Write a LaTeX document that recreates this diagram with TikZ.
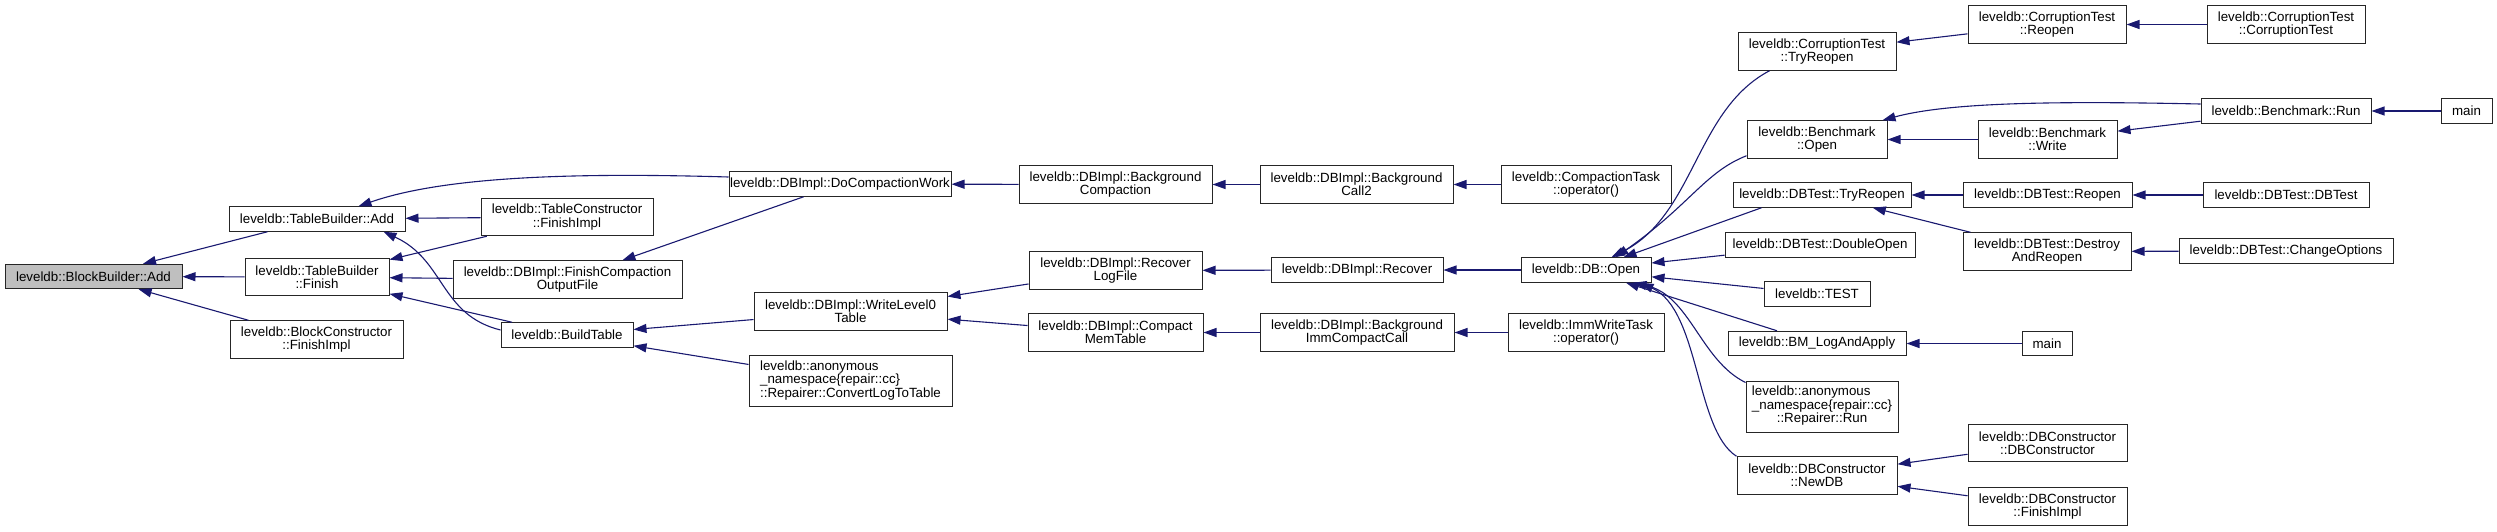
\documentclass[tikz,border=0pt]{standalone}
\usepackage{fontspec}
\setmainfont{Liberation Sans}
\usetikzlibrary{arrows.meta}
\definecolor{midnightblue}{RGB}{25,25,112}
\definecolor{grey75}{RGB}{191,191,191}
\newcommand{\anonlabel}[1]{\begin{tabular}{@{}l@{}}leveldb::anonymous\\\_namespace\{repair::cc\}\\\multicolumn{1}{@{}c@{}}{#1}\end{tabular}}

\begin{document}
\begin{tikzpicture}[x=1pt,y=-1pt,
        fn/.style={draw=black!85,line width=1pt,fill=white,inner sep=0pt,minimum height=24.5pt,align=center,font=\fontsize{13.33}{13.33}\selectfont},
        fntwo/.style={fn,minimum height=37.5pt},
        fnthree/.style={fn,minimum height=51pt},
        edge/.style={midnightblue,line width=1.1pt,-{Triangle[length=13pt,width=9pt]}}]
                \useasboundingbox (0,0) rectangle (2497,531);
                \node[fn,fill=grey75,minimum width=177] (bbAdd) at (93.5,276.5) {leveldb::BlockBuilder::Add};
                \node[fn,minimum width=176] (tbAdd) at (317,219) {leveldb::TableBuilder::Add};
                \node[fntwo,minimum width=144] (tbFinish) at (317,277) {leveldb::TableBuilder\\::Finish};
                \node[fntwo,minimum width=173] (bcFinishImpl) at (316.5,339.5) {leveldb::BlockConstructor\\::FinishImpl};
                \node[fntwo,minimum width=172] (tcFinishImpl) at (567,217) {leveldb::TableConstructor\\::FinishImpl};
                \node[fntwo,minimum width=229] (finishOut) at (567.5,279.5) {leveldb::DBImpl::FinishCompaction\\OutputFile};
                \node[fn,minimum width=132] (buildTable) at (567,335) {leveldb::BuildTable};
                \node[fn,minimum width=222] (doCompact) at (840,184) {leveldb::DBImpl::DoCompactionWork};
                \node[fntwo,minimum width=193] (writeL0) at (850.5,311.5) {leveldb::DBImpl::WriteLevel0\\Table};
                \node[fnthree,minimum width=203] (convertLog) at (850.5,381) {\anonlabel{::Repairer::ConvertLogToTable}};
                \node[fntwo,minimum width=193] (bgCompact) at (1115.5,184.5) {leveldb::DBImpl::Background\\Compaction};
                \node[fntwo,minimum width=173] (recoverLog) at (1115.5,270.5) {leveldb::DBImpl::Recover\\LogFile};
                \node[fntwo,minimum width=175] (compactMem) at (1115.5,332.5) {leveldb::DBImpl::Compact\\MemTable};
                \node[fntwo,minimum width=193] (bgCall) at (1356.5,184.5) {leveldb::DBImpl::Background\\Call2};
                \node[fn,minimum width=172] (recover) at (1357,270) {leveldb::DBImpl::Recover};
                \node[fntwo,minimum width=194] (bgImm) at (1357,332.5) {leveldb::DBImpl::Background\\ImmCompactCall};
                \node[fntwo,minimum width=170] (compTask) at (1586,184.5) {leveldb::CompactionTask\\::operator()};
                \node[fn,minimum width=130] (dbOpen) at (1586,270) {leveldb::DB::Open};
                \node[fntwo,minimum width=156] (immTask) at (1586,332.5) {leveldb::ImmWriteTask\\::operator()};
                \node[fntwo,minimum width=158] (ctTryReopen) at (1817,51.5) {leveldb::CorruptionTest\\::TryReopen};
                \node[fntwo,minimum width=140] (bmOpen) at (1817,139.5) {leveldb::Benchmark\\::Open};
                \node[fn,minimum width=178] (dtTryReopen) at (1822,195) {leveldb::DBTest::TryReopen};
                \node[fn,minimum width=190] (dtDouble) at (1820,245) {leveldb::DBTest::DoubleOpen};
                \node[fn,minimum width=106] (test) at (1817,294) {leveldb::TEST};
                \node[fn,minimum width=178] (bmLog) at (1817,343.5) {leveldb::BM\_LogAndApply};
                \node[fnthree,minimum width=152] (repRun) at (1822,406.5) {\anonlabel{::Repairer::Run}};
                \node[fntwo,minimum width=160] (newDB) at (1817,475.5) {leveldb::DBConstructor\\::NewDB};
                \node[fntwo,minimum width=158] (ctReopen) at (2047,24.5) {leveldb::CorruptionTest\\::Reopen};
                \node[fntwo,minimum width=139] (bmWrite) at (2047.5,139.5) {leveldb::Benchmark\\::Write};
                \node[fn,minimum width=169] (dtReopen) at (2047.5,195) {leveldb::DBTest::Reopen};
                \node[fntwo,minimum width=168] (dtDestroy) at (2047,251.5) {leveldb::DBTest::Destroy\\AndReopen};
                \node[fn,minimum width=50] (mainLog) at (2047,343.5) {main};
                \node[fntwo,minimum width=159] (dbcCtor) at (2047.5,443) {leveldb::DBConstructor\\::DBConstructor};
                \node[fntwo,minimum width=159] (dbcFinish) at (2047.5,506.5) {leveldb::DBConstructor\\::FinishImpl};
                \node[fntwo,minimum width=158] (ctCtor) at (2286,24.5) {leveldb::CorruptionTest\\::CorruptionTest};
                \node[fn,minimum width=170] (bmRun) at (2286,111) {leveldb::Benchmark::Run};
                \node[fn,minimum width=51] (mainRun) at (2466.5,111) {main};
                \node[fn,minimum width=166] (dtDBTest) at (2286,195) {leveldb::DBTest::DBTest};
                \node[fn,minimum width=214] (dtChange) at (2286,251) {leveldb::DBTest::ChangeOptions};
                \foreach \a/\b in {tbAdd/bbAdd,tbFinish/bbAdd,bcFinishImpl/bbAdd,tcFinishImpl/tbAdd,tcFinishImpl/tbFinish,
                    finishOut/tbFinish,buildTable/tbFinish,doCompact/finishOut,bgCompact/doCompact,writeL0/buildTable,
                    convertLog/buildTable,recoverLog/writeL0,compactMem/writeL0,bgCall/bgCompact,recover/recoverLog,
                    bgImm/compactMem,compTask/bgCall,dbOpen/recover,immTask/bgImm,dtDouble/dbOpen,test/dbOpen,bmLog/dbOpen,
                    ctReopen/ctTryReopen,ctCtor/ctReopen,bmWrite/bmOpen,bmRun/bmWrite,mainRun/bmRun,dtReopen/dtTryReopen,
                    dtDestroy/dtTryReopen,dtDBTest/dtReopen,dtChange/dtDestroy,mainLog/bmLog,dbcCtor/newDB,dbcFinish/newDB} {
                    \draw[edge] (\a) -- (\b);
                }
                \draw[edge] ([yshift=7]doCompact.west) .. controls (560,172) and (440,178) .. ([xshift=-47]tbAdd.north east);
                \draw[edge] ([yshift=5]buildTable.west) .. controls (440,315) and (445,260) .. ([xshift=-22]tbAdd.south east);
                \draw[edge] ([xshift=32]ctTryReopen.south west) .. controls (1695,110) and (1695,215) .. ([xshift=-40]dbOpen.north east);
                \draw[edge] ([yshift=3]bmOpen.south west) .. controls (1705,172) and (1690,205) .. ([xshift=-36]dbOpen.north east);
                \draw[edge] ([xshift=29]dtTryReopen.south west) -- ([xshift=-28]dbOpen.north east);
                \draw[edge] ([yshift=-2]repRun.north west) .. controls (1700,360) and (1690,295) .. ([xshift=-18]dbOpen.south east);
                \draw[edge] (newDB.north west) .. controls (1695,430) and (1700,310) .. ([xshift=-11]dbOpen.south east);
                \draw[edge] ([yshift=7]bmRun.west) .. controls (2060,101) and (1950,102) .. ([xshift=-5]bmOpen.north east);
            \end{tikzpicture}
\end{document}
